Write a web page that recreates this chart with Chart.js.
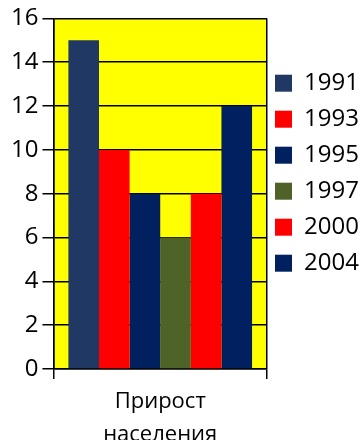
<!DOCTYPE html>
<html>
<head>
<meta charset="utf-8">
<script src="https://cdn.jsdelivr.net/npm/chart.js@4/dist/chart.umd.min.js"></script>
<style>
html,body{margin:0;padding:0;background:#fff;}
#wrap{width:359px;height:440px;position:relative;}
</style>
</head>
<body>
<div id="wrap"><canvas id="c"></canvas></div>
<script>
const categories = [['Прирост', 'населения']];
const seriesNames = ['1991', '1993', '1995', '1997', '2000', '2004'];
const seriesValues = [[15], [10], [8], [6], [8], [12]];
const seriesColors = ['#1F3864', '#FF0000', '#002060', '#4F6228', '#FF0000', '#002060'];
const yTicks = [0, 2, 4, 6, 8, 10, 12, 14, 16];

const FONT = '"Open Sans", sans-serif';

const plotBg = {
  id: 'plotBg',
  beforeDraw(chart) {
    const a = chart.chartArea, ctx = chart.ctx;
    ctx.save();
    ctx.fillStyle = '#FFFF00';
    ctx.fillRect(a.left, a.top, a.right - a.left, a.bottom - a.top);
    ctx.restore();
  }
};

function draw() {
  new Chart(document.getElementById('c'), {
    type: 'bar',
    data: {
      labels: categories,
      datasets: seriesNames.map((n, i) => ({
        label: n,
        data: seriesValues[i],
        backgroundColor: seriesColors[i],
        borderWidth: 0,
        categoryPercentage: 0.86,
        barPercentage: 1.0
      }))
    },
    options: {
      responsive: true,
      maintainAspectRatio: false,
      animation: false,
      layout: { padding: { top: 17, left: 7, right: 0, bottom: -17 } },
      plugins: {
        tooltip: { enabled: false },
        legend: {
          position: 'right',
          align: 'start',
          maxWidth: 92,
          title: { display: true, text: '', font: { size: 1 }, padding: { top: 45, bottom: 0 } },
          labels: {
            boxWidth: 17,
            boxHeight: 17,
            padding: 8,
            color: '#000',
            font: { family: FONT, size: 24, lineHeight: 28 / 24 },
            generateLabels(chart) {
              return Chart.defaults.plugins.legend.labels.generateLabels(chart).map(l => Object.assign(l, { text: [l.text] }));
            }
          }
        }
      },
      scales: {
        x: {
          offset: true,
          grid: { display: true, offset: true, drawOnChartArea: true, color: '#000', lineWidth: 1.5, tickLength: 10 },
          border: { display: true, color: '#000', width: 1.5 },
          ticks: {
            color: '#000',
            padding: 6,
            maxRotation: 0,
            font: { family: FONT, size: 22, lineHeight: 1.5 }
          }
        },
        y: {
          min: 0,
          max: 16,
          afterBuildTicks(scale) { scale.ticks = yTicks.map(v => ({ value: v })); },
          grid: { color: '#000', lineWidth: 1.5, tickLength: 11 },
          border: { display: true, color: '#000', width: 1.5 },
          ticks: {
            color: '#000',
            padding: 4,
            font: { family: FONT, size: 24 }
          }
        }
      }
    },
    plugins: [plotBg]
  });
}

Promise.all([
  document.fonts.load('24px "Open Sans"'),
  document.fonts.load('22px "Open Sans"', 'Прирост населения')
]).then(draw, draw);
</script>
</body>
</html>
